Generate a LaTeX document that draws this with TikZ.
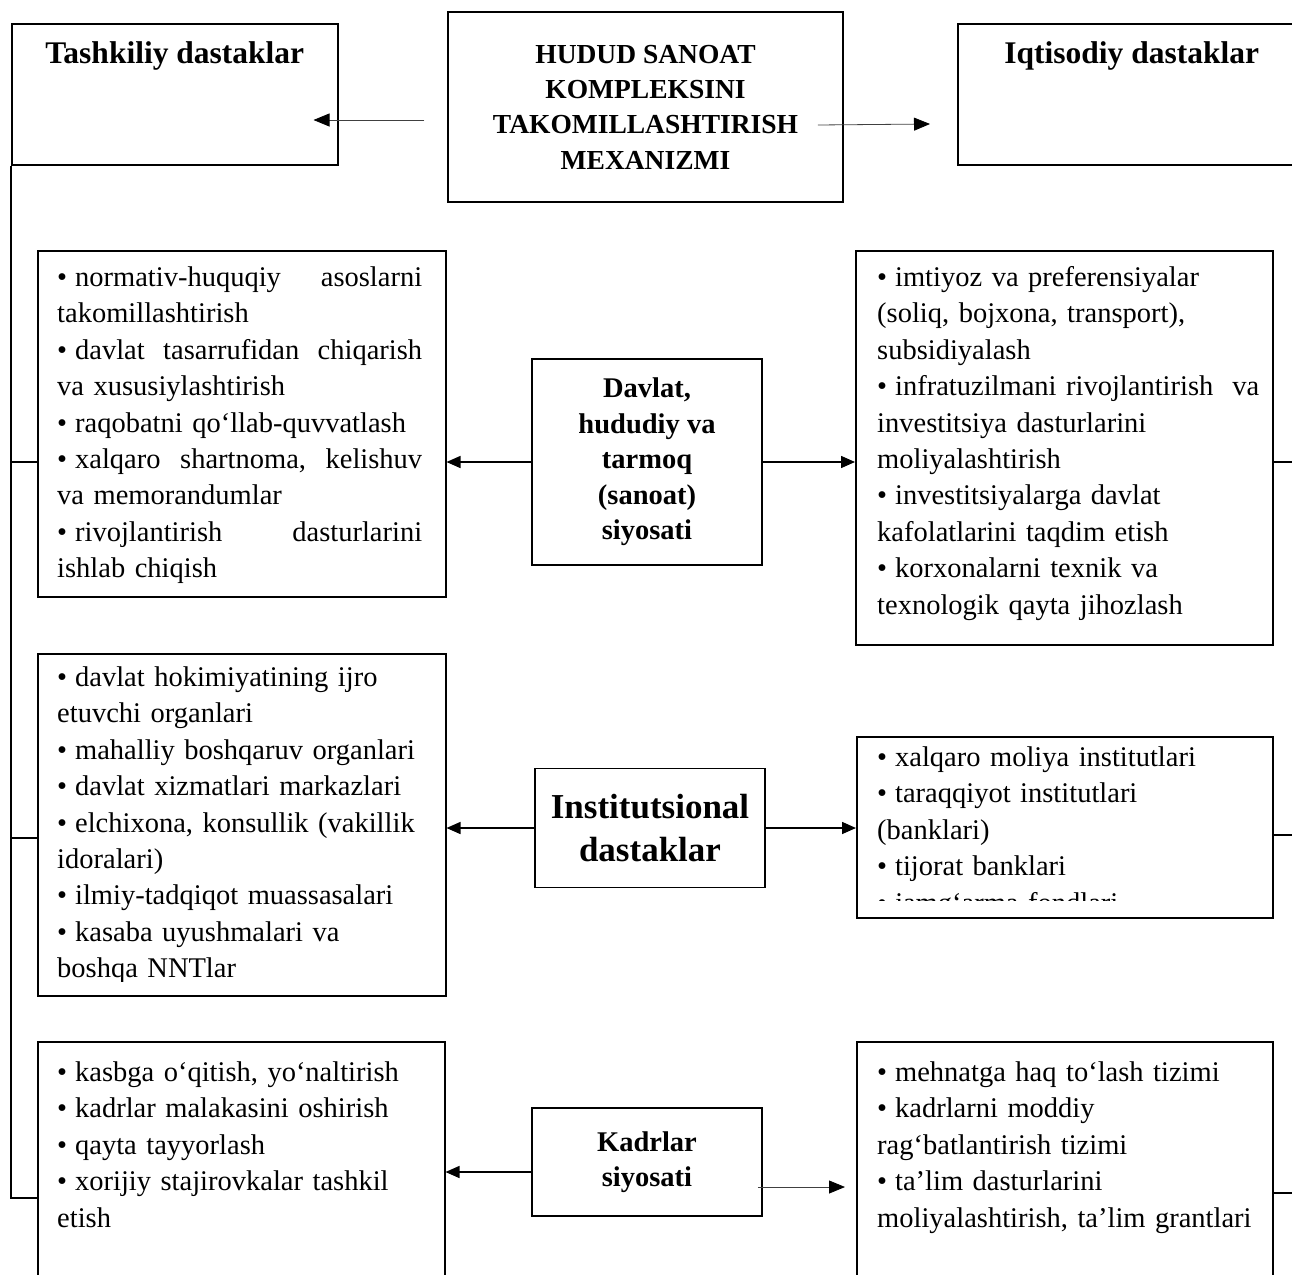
\documentclass[tikz,border=0pt]{standalone}
\usepackage{fontspec}
\setmainfont{Liberation Serif}
\usetikzlibrary{arrows.meta,positioning,calc}

\tikzset{
	box/.style = {draw, line width=1.5pt, inner sep=0pt},
	headbox/.style = {box, anchor=north west},
	policybox/.style = {box, align=center, font=\bfseries\fontsize{28.5}{35.5}\selectfont},
	listtext/.style = {anchor=base west, inner sep=0pt, align=left, text width=390pt, font=\fontsize{28.5}{36.4}\selectfont},
	titletext/.style = {anchor=base, inner sep=0pt, font=\bfseries\fontsize{31.5}{36}\selectfont},
	arrow/.style = {line width=1.5pt, -{Triangle[length=14pt,width=12pt]}},
	thinarrow/.style = {line width=0.8pt, draw=black!75, -{Triangle[length=16pt,width=13pt,black]}},
	line/.style = {line width=1.5pt},
}
\newcommand\bul{•\hspace{0.28em}}
% justified line of the left list
\newcommand\jline[1]{\leavevmode\hbox to 365pt{#1}}

\begin{document}
\begin{tikzpicture}[x=1pt,y=-1pt]
\useasboundingbox (0,0) rectangle (1292,1274);
%----------------------------------------------------------------------------
% Top row
\node (tashkiliy) [headbox, minimum width=326pt, minimum height=141pt] at (11,23) {};
\node (hudud) [policybox, minimum width=395pt, minimum height=190pt, font=\bfseries\fontsize{27.5}{35.4}\selectfont] at (645.5,107) {HUDUD SANOAT\\KOMPLEKSINI\\TAKOMILLASHTIRISH\\MEXANIZMI};
\node (iqtisodiy) [headbox, minimum width=348pt, minimum height=141pt] at (957,23) {};
\node (tashkiliy-title) [titletext] at ([yshift=-40pt]tashkiliy.north) {Tashkiliy dastaklar};
\node (iqtisodiy-title) [titletext] at ([yshift=-40pt]iqtisodiy.north) {Iqtisodiy dastaklar};

%----------------------------------------------------------------------------
% Davlat siyosati row
\node (normativ) [headbox, minimum width=408pt, minimum height=346pt] at (37,250) {};
\node (davlat) [policybox, minimum width=230pt, minimum height=206pt] at (647,462) {Davlat,\\hududiy va\\tarmoq\\(sanoat)\\siyosati};
\node (imtiyoz) [headbox, minimum width=417pt, minimum height=394pt] at (855,250) {};

\node (normativ-list) [listtext] at (57,286.5) {\jline{\bul normativ-huquqiy\hfill asoslarni}\\
takomillashtirish\\
\jline{\bul davlat\hfill tasarrufidan\hfill chiqarish}\\
va xususiylashtirish\\
\bul raqobatni qo‘llab-quvvatlash\\
\jline{\bul xalqaro\hfill shartnoma,\hfill kelishuv}\\
va memorandumlar\\
\jline{\bul rivojlantirish\hfill dasturlarini}\\
ishlab chiqish};
\node (imtiyoz-list) [listtext] at (877,286.5) {\bul imtiyoz va preferensiyalar\\
(soliq, bojxona, transport),\\
subsidiyalash\\
\bul infratuzilmani rivojlantirish\ \ va\\
investitsiya dasturlarini\\
moliyalashtirish\\
\bul investitsiyalarga davlat\\
kafolatlarini taqdim etish\\
\bul korxonalarni texnik va\\
texnologik qayta jihozlash};

%----------------------------------------------------------------------------
% Institutsional row
\node (organlar) [headbox, minimum width=408pt, minimum height=342pt] at (37,653) {};
\node (inst) [policybox, minimum width=230pt, minimum height=119pt, font=\bfseries\fontsize{35}{43}\selectfont] at (650,828) {Institutsional\\dastaklar};
\node (moliya) [headbox, minimum width=416pt, minimum height=181pt] at (856,736) {};

\begin{scope}
\clip (organlar.north west) rectangle ($(organlar.south east)+(0,-15)$);
\node (organlar-list) [listtext] at (57,686.5) {\bul davlat hokimiyatining ijro\\
etuvchi organlari\\
\bul mahalliy boshqaruv organlari\\
\bul davlat xizmatlari markazlari\\
\bul elchixona, konsullik (vakillik\\
idoralari)\\
\bul ilmiy-tadqiqot muassasalari\\
\bul kasaba uyushmalari va\\
boshqa NNTlar};
\end{scope}
\begin{scope}
\clip (moliya.north west) rectangle ($(moliya.south east)+(0,-18)$);
\node (moliya-list) [listtext] at (877,766.5) {\bul xalqaro moliya institutlari\\
\bul taraqqiyot institutlari\\
(banklari)\\
\bul tijorat banklari\\
\bul jamg‘arma fondlari};
\end{scope}

%----------------------------------------------------------------------------
% Kadrlar row
\node (kasb) [headbox, minimum width=407pt, minimum height=260pt] at (37,1041) {};
\node (kadr) [policybox, minimum width=230pt, minimum height=108pt] at (647,1162) {Kadrlar\\siyosati};
\node (mehnat) [headbox, minimum width=416pt, minimum height=260pt] at (856,1041) {};

\node (kasb-list) [listtext] at (57,1081.5) {\bul kasbga o‘qitish, yo‘naltirish\\
\bul kadrlar malakasini oshirish\\
\bul qayta tayyorlash\\
\bul xorijiy stajirovkalar tashkil\\
etish};
\node (mehnat-list) [listtext] at (877,1081.5) {\bul mehnatga haq to‘lash tizimi\\
\bul kadrlarni moddiy\\
rag‘batlantirish tizimi\\
\bul ta’lim dasturlarini\\
moliyalashtirish, ta’lim grantlari};

%----------------------------------------------------------------------------
% Draw arrows
\draw [thinarrow] ($(hudud.west)+(-23,13)$) -- ($(tashkiliy.east |- hudud.west)+(-25,13)$);
\draw [thinarrow] ($(hudud.east)+(-26,18)$) -- ($(iqtisodiy.west |- hudud.east)+(-27,17)$);

\draw [arrow] (davlat.west) -- (davlat.west -| normativ.east);
\draw [arrow] (davlat.east) -- (davlat.east -| imtiyoz.west);
\draw [arrow] (inst.west) -- (inst.west -| organlar.east);
\draw [arrow] (inst.east) -- (inst.east -| moliya.west);
\draw [arrow] ($(kadr.west)+(0,10)$) -- ($(kadr.west -| kasb.east)+(0,10)$);
\draw [thinarrow] ($(kadr.east)+(-5,25)$) -- ($(kadr.east -| mehnat.west)+(-11,25)$);

%----------------------------------------------------------------------------
% Draw side lines
\coordinate (rightedge) at (1292,0);
\draw [line] (tashkiliy.south west) -- ($(tashkiliy.south west |- kasb.north)+(0,157)$) -- ($(kasb.north west)+(0,157)$);
\draw [line] (tashkiliy.south west |- davlat.west) -- (davlat.west -| normativ.west);
\draw [line] ($(tashkiliy.south west |- inst.west)+(0,10)$) -- ($(inst.west -| organlar.west)+(0,10)$);

\draw [line] (davlat.east -| imtiyoz.east) -- (davlat.east -| rightedge);
\draw [line] ($(inst.east -| moliya.east)+(0,7)$) -- ($(inst.east -| rightedge)+(0,7)$);
\draw [line] ($(kadr.east -| mehnat.east)+(0,31)$) -- ($(kadr.east -| rightedge)+(0,31)$);

\end{tikzpicture}
\end{document}
